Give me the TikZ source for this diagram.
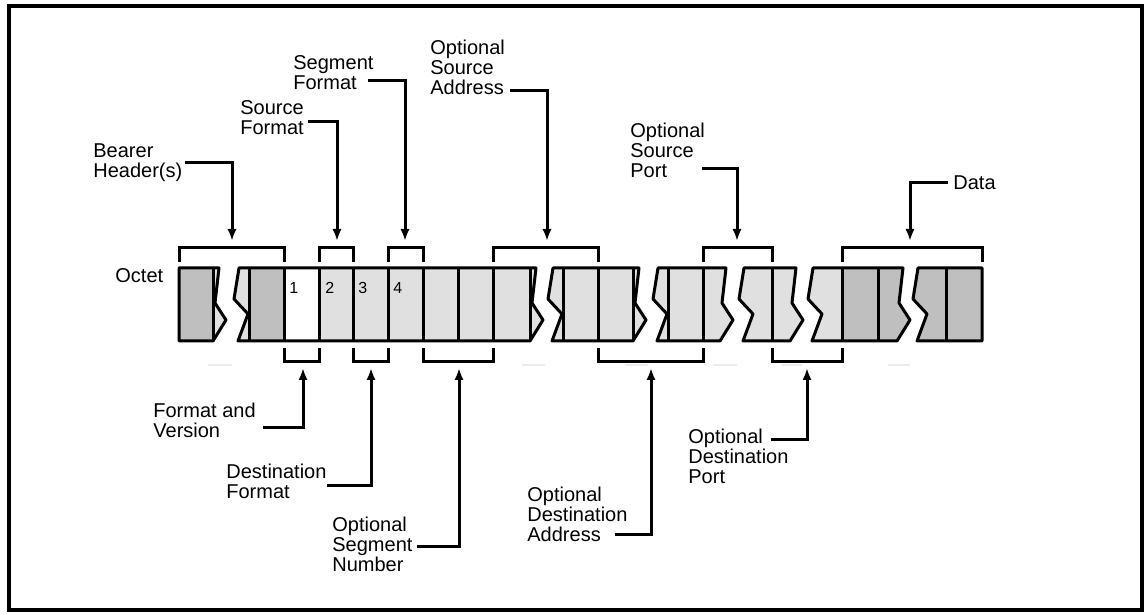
\documentclass[tikz,border=0pt]{standalone}
\usepackage{fontspec}
\setmainfont{Liberation Sans}
\usetikzlibrary{arrows.meta}
\definecolor{escuro}{gray}{0.75}
\definecolor{claro}{gray}{0.88}

\begin{document}
\begin{tikzpicture}[
    x=0.5pt,y=-0.5pt,
    every node/.style={font=\fontsize{10}{10}\selectfont,align=left,
      inner sep=0pt,anchor=north west},
    numero/.style={font=\fontsize{8}{8}\selectfont},
    seta/.style={-{Latex[length=6pt,width=4.6pt]},line width=1.5pt},
    chave/.style={line width=1.5pt},
    bloco/.style={line width=1.5pt,line join=round},
    sombra/.style={gray!15,line width=1pt}
  ]
    \useasboundingbox (0,0) rectangle (1146,614);
    \draw[line width=2pt] (9,6) rectangle (1142,610);

    % fatias da sequencia de octetos
    \fill[claro] (179,268) -- (219,268) -- (215,303) -- (226,320) -- (213,341)
      -- (179,341) -- cycle;
    \fill[escuro] (918,268) -- (982,268) -- (982,341) -- (917,341) -- (927,314)
      -- (913,299) -- cycle;
    \foreach \l/\r/\cor in {249/530/claro,563/633/claro,668/720/claro,
        754/790/claro,823/897/escuro}
      \fill[\cor] (\l-10,268) -- (\r+6,268) -- (\r+2,303) -- (\r+13,320)
        -- (\r,341) -- (\l-11,341) -- (\l-1,314) -- (\l-15,299) -- cycle;
    \fill[escuro] (179,268) rectangle (213,341);
    \fill[escuro] (249,268) rectangle (284,341);
    \fill[white] (284,268) rectangle (319,341);
    \fill[claro] (813,268) -- (842,268) -- (842,341) -- (812,341) -- (822,314)
      -- (808,299) -- cycle;

    \draw[bloco] (179,268) -- (219,268) -- (215,303) -- (226,320) -- (213,341)
      -- (179,341) -- cycle;
    \draw[bloco] (918,268) -- (982,268) -- (982,341) -- (917,341) -- (927,314)
      -- (913,299) -- cycle;
    \foreach \l/\r in {249/530,563/633,668/720,754/790,823/897}
      \draw[bloco] (\l-10,268) -- (\r+6,268) -- (\r+2,303) -- (\r+13,320)
        -- (\r,341) -- (\l-11,341) -- (\l-1,314) -- (\l-15,299) -- cycle;
    \foreach \x in {213,249,284,319,353,388,423,458,493,530,563,598,633,668,
        703,772,842,878,946}
      \draw[bloco] (\x,268) -- (\x,341);

    \node[numero] (um) at (289,282) {1};
    \node[numero] (dois) at (325,282) {2};
    \node[numero] (tres) at (358,282) {3};
    \node[numero] (quatro) at (393,282) {4};
    \node (octeto) at (115,268) {Octet};

    % chaves
    \foreach \a/\b in {179/284,319/353,388/423,493/598,703/772,842/982}
      \draw[chave] (\a,262) -- (\a,248) -- (\b,248) -- (\b,262);
    \foreach \a/\b in {284/319,353/388,423/493,598/703,772/842}
      \draw[chave] (\a,348) -- (\a,362) -- (\b,362) -- (\b,348);
    \foreach \a/\b in {208/232,522/545,625/648,713/737,782/802,888/910}
      \draw[sombra] (\a,365) -- (\b,365);

    % rotulos de cima
    \node (portador) at (93,143) {Bearer\\Header(s)};
    \node (fontefmt) at (240,100) {Source\\Format};
    \node (segfmt) at (293,55) {Segment\\Format};
    \node (fonteend) at (430,40) {Optional\\Source\\Address};
    \node (fonteporta) at (630,123) {Optional\\Source\\Port};
    \node[anchor=west] (dados) at (953,183) {Data};

    % rotulos de baixo
    \node (versao) at (153,403) {Format and\\Version};
    \node (destfmt) at (226,464) {Destination\\Format};
    \node (segnum) at (332,517) {Optional\\Segment\\Number};
    \node (destend) at (527,487) {Optional\\Destination\\Address};
    \node (destporta) at (688,429) {Optional\\Destination\\Port};

    \coordinate (portador-a) at (185,163);
    \coordinate (portador-b) at (232,241);
    \coordinate (fontefmt-a) at (308,122);
    \coordinate (fontefmt-b) at (337,241);
    \coordinate (segfmt-a) at (368,81);
    \coordinate (segfmt-b) at (405,241);
    \coordinate (fonteend-a) at (510,91);
    \coordinate (fonteend-b) at (547,241);
    \coordinate (fonteporta-a) at (702,169);
    \coordinate (fonteporta-b) at (737,241);
    \coordinate (dados-a) at (948,183);
    \coordinate (dados-b) at (910,241);
    \coordinate (versao-a) at (263,428);
    \coordinate (versao-b) at (303,368);
    \coordinate (destfmt-a) at (327,486);
    \coordinate (destfmt-b) at (371,368);
    \coordinate (segnum-a) at (417,546);
    \coordinate (segnum-b) at (459,368);
    \coordinate (destend-a) at (615,534);
    \coordinate (destend-b) at (651,368);
    \coordinate (destporta-a) at (771,440);
    \coordinate (destporta-b) at (807,368);

    \foreach \n in {portador,fontefmt,segfmt,fonteend,fonteporta,dados,
        versao,destfmt,segnum,destend,destporta}
      \draw[seta] (\n-a) -| (\n-b);
  \end{tikzpicture}
\end{document}
